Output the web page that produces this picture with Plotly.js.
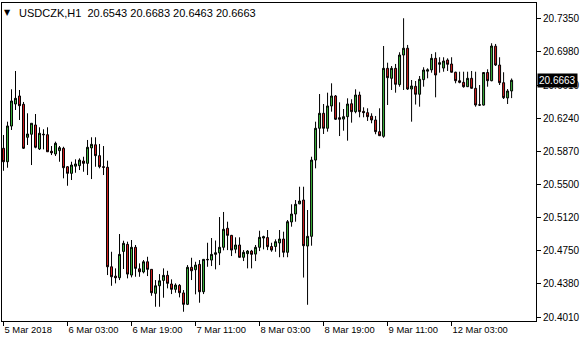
<!DOCTYPE html>
<html><head><meta charset="utf-8">
<script src="https://cdn.plot.ly/plotly-3.0.1.min.js"></script>
<style>html,body{margin:0;padding:0;background:#fff;} #chart{width:580px;height:340px;}</style>
</head><body><div id="chart"></div>
<script>
const symbol = 'USDCZK';
const timeframe = 'H1';
const open = [20.5901,20.5750,20.6150,20.6397,20.6487,20.6394,20.6024,20.6058,20.6162,20.5893,
20.6058,20.6053,20.5868,20.5837,20.5874,20.5901,20.5694,20.5620,20.5700,20.5706,
20.5758,20.5732,20.5905,20.5940,20.5818,20.5694,20.5688,20.4573,20.4468,20.4450,
20.4745,20.4824,20.4480,20.4791,20.4550,20.4515,20.4629,20.4544,20.4275,20.4360,
20.4420,20.4477,20.4380,20.4320,20.4365,20.4280,20.4152,20.4567,20.4540,20.4600,
20.4293,20.4656,20.4648,20.4712,20.4728,20.4791,20.5004,20.4925,20.4770,20.4817,
20.4679,20.4720,20.4749,20.4715,20.4791,20.4895,20.4900,20.4800,20.4800,20.4840,
20.4884,20.4735,20.5075,20.5164,20.5278,20.5321,20.4805,20.4914,20.5769,20.6125,
20.6293,20.6125,20.6375,20.6487,20.6244,20.6228,20.6255,20.6400,20.6311,20.6498,
20.6315,20.6300,20.6260,20.6218,20.6087,20.6035,20.6797,20.6685,20.6797,20.6615,
20.6946,20.7022,20.6565,20.6595,20.6506,20.6670,20.6765,20.6780,20.6909,20.6842,
20.6800,20.6890,20.6845,20.6753,20.6658,20.6640,20.6591,20.6685,20.6573,20.6388,
20.6385,20.6750,20.6658,20.7045,20.6834,20.6636,20.6465,20.6543];
const high = [20.6050,20.6199,20.6562,20.6767,20.6554,20.6420,20.6293,20.6181,20.6285,20.6136,
20.6114,20.6136,20.5926,20.5975,20.5926,20.5918,20.5702,20.5750,20.5777,20.5788,
20.5806,20.5994,20.6024,20.6024,20.5949,20.5926,20.5762,20.4741,20.4555,20.4940,
20.4865,20.4854,20.4873,20.4817,20.4611,20.4648,20.4685,20.4544,20.4424,20.4491,
20.4555,20.4528,20.4432,20.4387,20.4379,20.4312,20.4592,20.4674,20.4629,20.4648,
20.4656,20.4842,20.4895,20.4867,20.5130,20.5187,20.5078,20.4930,20.4903,20.4903,
20.4760,20.4760,20.4762,20.4817,20.4977,20.4921,20.4985,20.4842,20.4880,20.4985,
20.4966,20.5097,20.5273,20.5321,20.5470,20.5470,20.5209,20.5806,20.6199,20.6509,
20.6397,20.6524,20.6629,20.6498,20.6416,20.6341,20.6461,20.6450,20.6562,20.6535,
20.6360,20.6349,20.6293,20.6263,20.6349,20.7047,20.6860,20.6823,20.6846,20.6977,
20.7358,20.7059,20.6666,20.6655,20.6711,20.6809,20.6797,20.6958,20.6977,20.6921,
20.6921,20.6909,20.6921,20.6759,20.6759,20.6759,20.6759,20.6767,20.6759,20.6610,
20.6753,20.6786,20.7078,20.7070,20.6921,20.6753,20.6565,20.6683];
const low = [20.5649,20.5683,20.6106,20.6330,20.6218,20.5893,20.5938,20.5713,20.5901,20.5882,
20.5889,20.5860,20.5825,20.5814,20.5750,20.5564,20.5481,20.5545,20.5627,20.5657,
20.5638,20.5601,20.5556,20.5694,20.5676,20.5601,20.4480,20.4360,20.4387,20.4424,
20.4548,20.4443,20.4454,20.4461,20.4461,20.4499,20.4469,20.4248,20.4125,20.4125,
20.4226,20.4331,20.4267,20.4282,20.4230,20.4069,20.4144,20.4424,20.4264,20.4170,
20.4267,20.4573,20.4581,20.4544,20.4592,20.4757,20.4760,20.4693,20.4724,20.4675,
20.4637,20.4555,20.4555,20.4637,20.4749,20.4768,20.4760,20.4741,20.4741,20.4680,
20.4680,20.4680,20.5022,20.5078,20.5275,20.4452,20.4147,20.4809,20.5676,20.5901,
20.6061,20.6087,20.6311,20.6218,20.6038,20.6098,20.5986,20.6188,20.6293,20.6248,
20.6248,20.6207,20.6181,20.6058,20.6038,20.6019,20.6386,20.6554,20.6524,20.6591,
20.6554,20.6554,20.6199,20.6391,20.6367,20.6591,20.6685,20.6748,20.6472,20.6748,
20.6759,20.6767,20.6750,20.6629,20.6629,20.6580,20.6588,20.6570,20.6367,20.6375,
20.6380,20.6591,20.6652,20.6823,20.6610,20.6453,20.6397,20.6463];
const close = [20.5750,20.6151,20.6431,20.6461,20.6378,20.5901,20.6061,20.6181,20.5912,20.6069,
20.6053,20.5862,20.5850,20.5957,20.5907,20.5683,20.5620,20.5713,20.5725,20.5769,
20.5732,20.5912,20.5945,20.5818,20.5694,20.5688,20.4573,20.4461,20.4450,20.4712,
20.4836,20.4491,20.4791,20.4555,20.4517,20.4629,20.4544,20.4282,20.4360,20.4416,
20.4477,20.4387,20.4320,20.4368,20.4282,20.4152,20.4567,20.4528,20.4592,20.4293,
20.4656,20.4652,20.4712,20.4730,20.4791,20.4993,20.4925,20.4760,20.4817,20.4679,
20.4735,20.4749,20.4712,20.4791,20.4903,20.4910,20.4798,20.4760,20.4854,20.4884,
20.4735,20.5078,20.5164,20.5273,20.5310,20.4809,20.4914,20.5769,20.6125,20.6293,
20.6125,20.6375,20.6487,20.6226,20.6226,20.6255,20.6397,20.6311,20.6498,20.6311,
20.6300,20.6255,20.6218,20.6087,20.6042,20.6797,20.6692,20.6797,20.6618,20.6946,
20.7022,20.6565,20.6599,20.6506,20.6674,20.6778,20.6780,20.6909,20.6722,20.6860,
20.6879,20.6842,20.6753,20.6658,20.6640,20.6591,20.6685,20.6573,20.6386,20.6385,
20.6750,20.6658,20.7047,20.6834,20.6636,20.6468,20.6543,20.6663];
const tickIndex = [0,16,32,48,64,80,96,112];
const tickLabels = ['5 Mar 2018','6 Mar 03:00','6 Mar 19:00','7 Mar 11:00','8 Mar 03:00','8 Mar 19:00','9 Mar 11:00','12 Mar 03:00'];
const priceTicks = [20.7350,20.6980,20.6610,20.6240,20.5870,20.5500,20.5120,20.4750,20.4380,20.4010];

const x = open.map((_, i) => i);
const n = close.length - 1;
const header = symbol + ',' + timeframe + '\u00a0\u00a0' +
  [open[n], high[n], low[n], close[n]].map(v => v.toFixed(4)).join(' ');

const trace = {
  type: 'candlestick', x: x, open: open, high: high, low: low, close: close,
  increasing: {line: {color: '#000000', width: 1}, fillcolor: '#3cb83c'},
  decreasing: {line: {color: '#000000', width: 1}, fillcolor: '#d81e1e'},
  whiskerwidth: 0, hoverinfo: 'none'
};
const font = 'Liberation Sans, Arial, sans-serif';
const layout = {
  width: 580, height: 340,
  margin: {l: 2, r: 44, t: 3, b: 19, pad: 0},
  paper_bgcolor: '#ffffff', plot_bgcolor: '#ffffff',
  showlegend: false, boxgap: 0.3,
  font: {family: font, size: 10, color: '#000'},
  xaxis: {range: [-0.375, 133.1], rangeslider: {visible: false}, showgrid: false, zeroline: false,
    showline: true, mirror: true, linecolor: '#000', linewidth: 1,
    ticks: 'outside', ticklen: 4, tickcolor: '#000', tickwidth: 1, tickangle: 0,
    tickmode: 'array', tickvals: tickIndex, ticktext: tickLabels,
    ticklabelposition: 'outside right', tickfont: {family: font, size: 9.4, color: '#000'}},
  yaxis: {side: 'right', range: [20.39652, 20.7529], showgrid: false, zeroline: false,
    showline: true, mirror: true, linecolor: '#000', linewidth: 1,
    ticks: 'outside', ticklen: 4, tickcolor: '#000', tickwidth: 1,
    tickmode: 'array', tickvals: priceTicks, tickformat: '.4f',
    tickfont: {family: font, size: 10, color: '#000'}},
  annotations: [
    {xref: 'paper', yref: 'paper', x: 0, y: 1, xanchor: 'left', yanchor: 'top', xshift: 0, yshift: -3,
     text: '\u25BC', showarrow: false, font: {family: 'DejaVu Sans', size: 8, color: '#000'}, bgcolor: '#fff', borderpad: 1},
    {xref: 'paper', yref: 'paper', x: 0, y: 1, xanchor: 'left', yanchor: 'top', xshift: 16, yshift: -3,
     text: header, showarrow: false, font: {family: font, size: 11, color: '#000'}, bgcolor: '#fff', borderpad: 0},
    {xref: 'paper', yref: 'y', x: 1, y: close[n], xanchor: 'left', yanchor: 'middle', xshift: 1,
     text: close[n].toFixed(4), showarrow: false, bgcolor: '#000', borderpad: 1,
     font: {family: font, size: 10, color: '#fff'}}
  ]
};
Plotly.newPlot('chart', [trace], layout, {staticPlot: true, displayModeBar: false});
</script>
</body></html>
